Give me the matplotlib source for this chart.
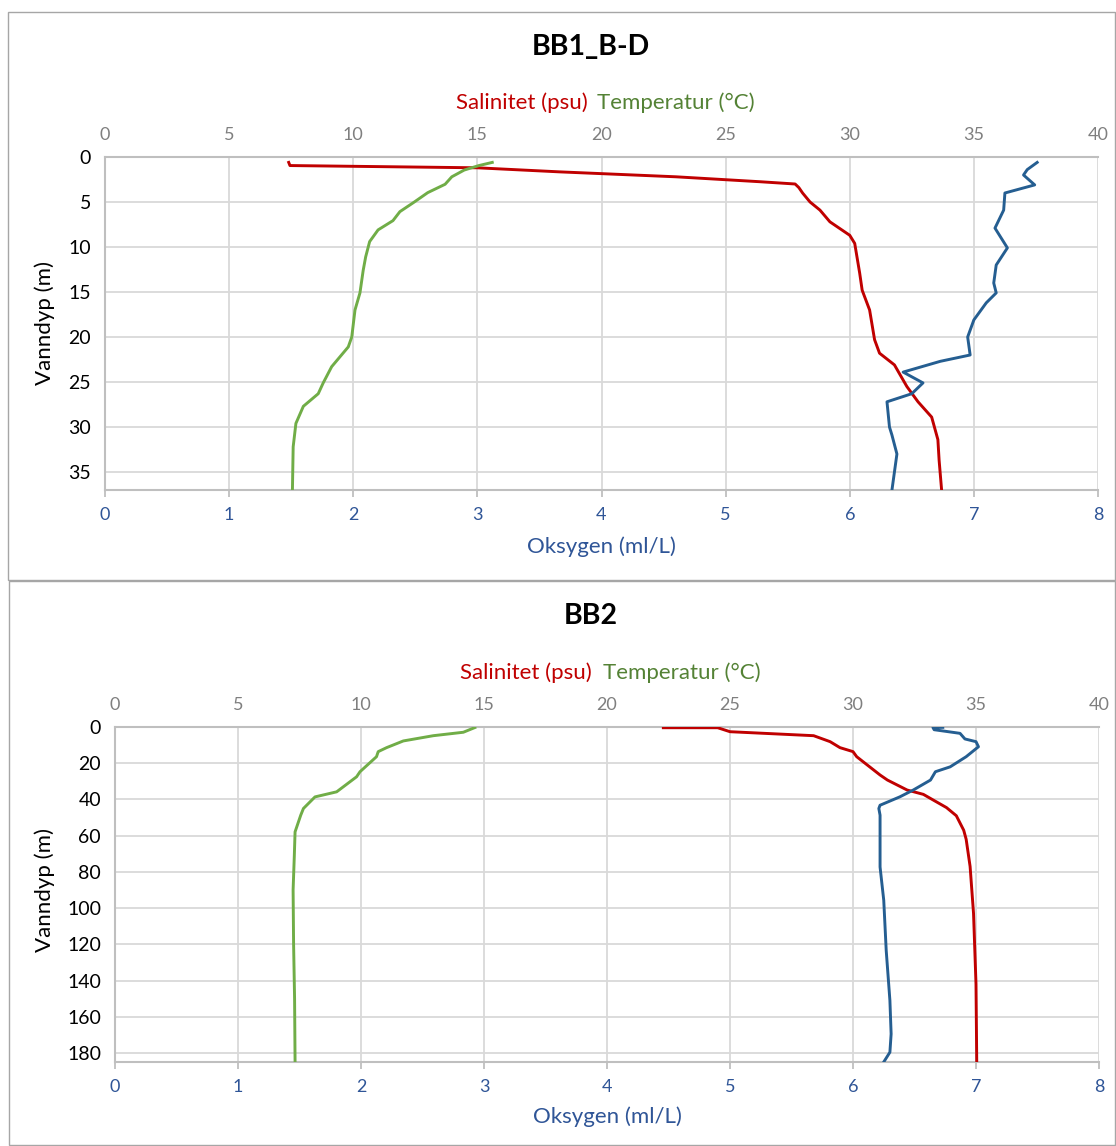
import matplotlib
matplotlib.use("Agg")
import matplotlib.pyplot as plt
from matplotlib.patches import Rectangle

plt.rcParams['font.family'] = ['Lato', 'DejaVu Sans']

RED = "#C00000"
GREEN = "#70AD47"
BLUE = "#255E91"
GRID = "#D9D9D9"
AXIS = "#BFBFBF"

# ---- BB1_B-D ----
bb1_sal_depth = [0.6, 0.95, 1.2, 1.65, 2.2, 2.75, 3.0, 3.4, 4.0, 5.0, 5.9, 7.2, 8.7, 9.6, 12.9, 14.8,
                 17.0, 20.3, 21.8, 23.1, 25.5, 27.2, 28.9, 31.4, 33.7, 37]
bb1_sal = [7.4, 7.45, 15.0, 18.3, 23.0, 26.4, 27.8, 27.95, 28.1, 28.4, 28.8, 29.2, 30.0, 30.2, 30.4, 30.5,
           30.8, 31.0, 31.2, 31.8, 32.3, 32.75, 33.3, 33.55, 33.6, 33.7]

bb1_temp_depth = [0.6, 0.96, 1.45, 2.2, 3.03, 3.96, 5.0, 6.07, 7.07, 8.1, 9.4, 11.1, 12.6, 15.1,
                  17.0, 20.0, 21.1, 23.3, 25.1, 26.3, 27.7, 29.6, 32.2, 37]
bb1_temp = [15.6, 15.05, 14.47, 13.97, 13.7, 13.0, 12.46, 11.88, 11.6, 11.0, 10.66, 10.5, 10.4, 10.27,
            10.07, 9.94, 9.8, 9.13, 8.79, 8.59, 7.99, 7.69, 7.58, 7.55]

bb1_oxy_depth = [0.6, 1.4, 2.0, 3.1, 4.0, 5.9, 7.9, 10.1, 12.0, 14.0, 15.1, 16.2, 18.1, 20.0,
                 22.0, 22.7, 23.9, 25.1, 26.3, 27.2, 30.0, 30.9, 33.0, 37]
bb1_oxy = [7.51, 7.43, 7.40, 7.49, 7.25, 7.24, 7.17, 7.27, 7.18, 7.16, 7.18, 7.10, 7.00, 6.95,
           6.97, 6.73, 6.43, 6.59, 6.50, 6.30, 6.32, 6.34, 6.38, 6.34]

# ---- BB2 ----
bb2_sal_depth = [0.4, 0.4, 2.6, 4.8, 8.1, 11.4, 13.6, 16.4, 26.5, 29.3, 34.8, 37.2, 40.4, 44.5,
                 49, 57, 62, 77, 103, 142, 185]
bb2_sal = [22.29, 24.5, 25.0, 28.4, 29.07, 29.47, 30.0, 30.15, 31.1, 31.4, 32.2, 32.86, 33.27, 33.8,
           34.2, 34.5, 34.6, 34.76, 34.9, 35.0, 35.03]

bb2_temp_depth = [0.3, 2.9, 4.8, 7.7, 11.4, 13.6, 16.4, 24.7, 27.5, 35.8, 38.6, 45, 48.7, 57.9,
                  70.8, 90, 120, 150, 185]
bb2_temp = [14.63, 14.16, 12.94, 11.72, 11.04, 10.7, 10.63, 9.96, 9.82, 9.01, 8.13, 7.66, 7.55, 7.32,
            7.29, 7.24, 7.26, 7.3, 7.32]

bb2_oxy_depth = [0.2, 0.3, 1.5, 3.5, 6.6, 8.1, 10.9, 16.4, 22.0, 24.7, 29.3, 34.8, 38.6, 43.2,
                 45, 48.7, 59.8, 77.3, 95.7, 123.4, 151, 169.5, 179.6, 185]
bb2_oxy = [6.73, 6.65, 6.66, 6.87, 6.91, 7.00, 7.02, 6.92, 6.79, 6.67, 6.63, 6.49, 6.38, 6.22,
           6.21, 6.22, 6.22, 6.22, 6.25, 6.27, 6.30, 6.31, 6.30, 6.25]

W, H = 1116, 1146
fig = plt.figure(figsize=(W / 100, H / 100), dpi=100)


def fx(px):
    return px / W


def fy(py):
    return 1 - py / H


# panel frames
for (x0, y0, x1, y1) in [(8, 12, 1115, 580), (9, 581, 1115, 1145)]:
    fig.patches.append(Rectangle((fx(x0), fy(y1)), fx(x1 - x0), fy(y0) - fy(y1),
                                 transform=fig.transFigure, fill=False,
                                 edgecolor="#A6A6A6", linewidth=1.0))


def panel(box, title, title_y, lbl_y, red_x, green_x, oxlbl_y, ylab_y,
          ymax, ystep, sal, sal_d, tmp, tmp_d, oxy, oxy_d):
    left, top, right, bottom = box
    ax = fig.add_axes([fx(left), fy(bottom), fx(right - left), fy(top) - fy(bottom)])
    ax2 = ax.twiny()
    ax.set_xlim(0, 8)
    ax2.set_xlim(0, 40)
    ax.set_ylim(ymax, 0)
    ax.set_yticks(range(0, int(ymax) + 1, ystep))
    ax.set_xticks(range(0, 9))
    ax2.set_xticks(range(0, 41, 5))
    ax.grid(True, color=GRID, linewidth=1.3)
    ax.set_axisbelow(True)
    for a in (ax, ax2):
        for s in a.spines.values():
            s.set_visible(False)
    ax.spines['left'].set_visible(True)
    ax.spines['bottom'].set_visible(True)
    ax2.spines['top'].set_visible(True)
    for s in ('left', 'bottom'):
        ax.spines[s].set_color(AXIS)
        ax.spines[s].set_linewidth(1.5)
    ax2.spines['top'].set_color(AXIS)
    ax2.spines['top'].set_linewidth(1.5)
    ax.tick_params(axis='x', colors=AXIS, labelcolor="#2F5597", labelsize=13,
                   length=5, width=1.3, pad=7)
    ax.tick_params(axis='y', length=0, labelsize=14, labelcolor="#000000", pad=10)
    ax2.tick_params(axis='x', length=0, labelsize=13, labelcolor="#7F7F7F", pad=10)

    ax2.plot(sal, sal_d, color=RED, linewidth=2.1, solid_joinstyle='round', zorder=3)
    ax2.plot(tmp, tmp_d, color=GREEN, linewidth=2.1, solid_joinstyle='round', zorder=3)
    ax2.plot([o * 5 for o in oxy], oxy_d, color=BLUE, linewidth=2.1,
             solid_joinstyle='round', zorder=4)

    fig.text(fx(591), fy(title_y), title, ha='center', va='center',
             fontsize=20.5, fontweight='bold', color="#000000")
    fig.text(fx(red_x), fy(lbl_y), "Salinitet (psu)", ha='right', va='center',
             fontsize=16, color=RED)
    fig.text(fx(green_x), fy(lbl_y), "Temperatur (°C)", ha='left', va='center',
             fontsize=16, color="#548235")
    fig.text(fx((left + right) / 2), fy(oxlbl_y), "Oksygen (ml/L)", ha='center', va='center',
             fontsize=16, color="#2F5597")
    fig.text(fx(45), fy(ylab_y), "Vanndyp (m)", ha='center', va='center', rotation=90,
             fontsize=16, color="#000000")


panel((105, 157, 1098, 490), "BB1_B-D", 47, 103, 588, 597, 547, 323,
      37, 5, bb1_sal, bb1_sal_depth, bb1_temp, bb1_temp_depth, bb1_oxy, bb1_oxy_depth)
panel((115, 727, 1099, 1062), "BB2", 616, 673, 592, 603, 1117, 890,
      185, 20, bb2_sal, bb2_sal_depth, bb2_temp, bb2_temp_depth, bb2_oxy, bb2_oxy_depth)

fig.savefig("out.png", dpi=100, facecolor="white")
